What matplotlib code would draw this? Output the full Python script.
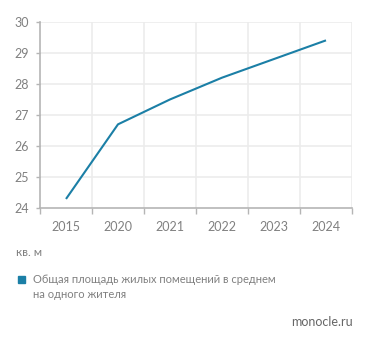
import matplotlib
matplotlib.use("Agg")
import matplotlib.pyplot as plt
from matplotlib.patches import Rectangle

years = ["2015", "2020", "2021", "2022", "2023", "2024"]
area = [24.3, 26.7, 27.5, 28.2, 28.8, 29.4]
y_ticks = [24, 25, 26, 27, 28, 29, 30]

LINE = "#1b7fa6"
TEXT = "#808080"
GRID = "#ececec"
AXIS = "#b5b5b5"

plt.rcParams["font.family"] = ["Lato", "DejaVu Sans"]

W, H = 371, 343
fig = plt.figure(figsize=(W / 100, H / 100), dpi=100)
ax = fig.add_axes([40 / W, 1 - 208.3 / H, 312 / W, (208.3 - 21.7) / H])

x = list(range(len(years)))
ax.plot(x, area, color=LINE, lw=1.5, solid_capstyle="butt", solid_joinstyle="round", zorder=3)

ax.set_xlim(-0.5, len(years) - 0.5)
ax.set_ylim(24, 30)
ax.set_yticks(y_ticks)
ax.set_yticklabels([str(v) for v in y_ticks])
ax.set_xticks(x)
ax.set_xticklabels(years)
ax.set_xticks([i - 0.5 for i in range(len(years) + 1)], minor=True)

for v in y_ticks[1:]:
    ax.axhline(v, color=GRID, lw=1.2, zorder=1)
for i in range(1, len(years) + 1):
    ax.axvline(i - 0.5, color=GRID, lw=1.2, zorder=1)

for s in ["top", "right"]:
    ax.spines[s].set_visible(False)
ax.spines["left"].set_color(AXIS)
ax.spines["bottom"].set_color(AXIS)
ax.spines["left"].set_linewidth(1.2)
ax.spines["bottom"].set_linewidth(1.2)

ax.tick_params(axis="x", which="major", length=0, pad=9, labelsize=9, labelcolor=TEXT)
ax.tick_params(axis="x", which="minor", length=4, width=1, color=AXIS)
ax.tick_params(axis="y", length=3, width=1, color=AXIS, pad=5, labelsize=9, labelcolor=TEXT)

fig.text(16 / W, 1 - 252 / H, "кв. м", fontsize=8.5, color=TEXT, va="center", ha="left")

fig.patches.append(Rectangle((18 / W, 1 - 283 / H), 7 / W, 7 / H,
                             transform=fig.transFigure, color=LINE, figure=fig))
fig.text(33 / W, 1 - 279.5 / H, "Общая площадь жилых помещений в среднем",
         fontsize=8, color=TEXT, va="center", ha="left")
fig.text(33 / W, 1 - 294 / H, "на одного жителя",
         fontsize=8, color=TEXT, va="center", ha="left")

fig.text(353 / W, 1 - 322 / H, "monocle.ru", fontsize=9, color="#666666",
         va="center", ha="right")

fig.savefig("out.png", dpi=100, facecolor="white")
